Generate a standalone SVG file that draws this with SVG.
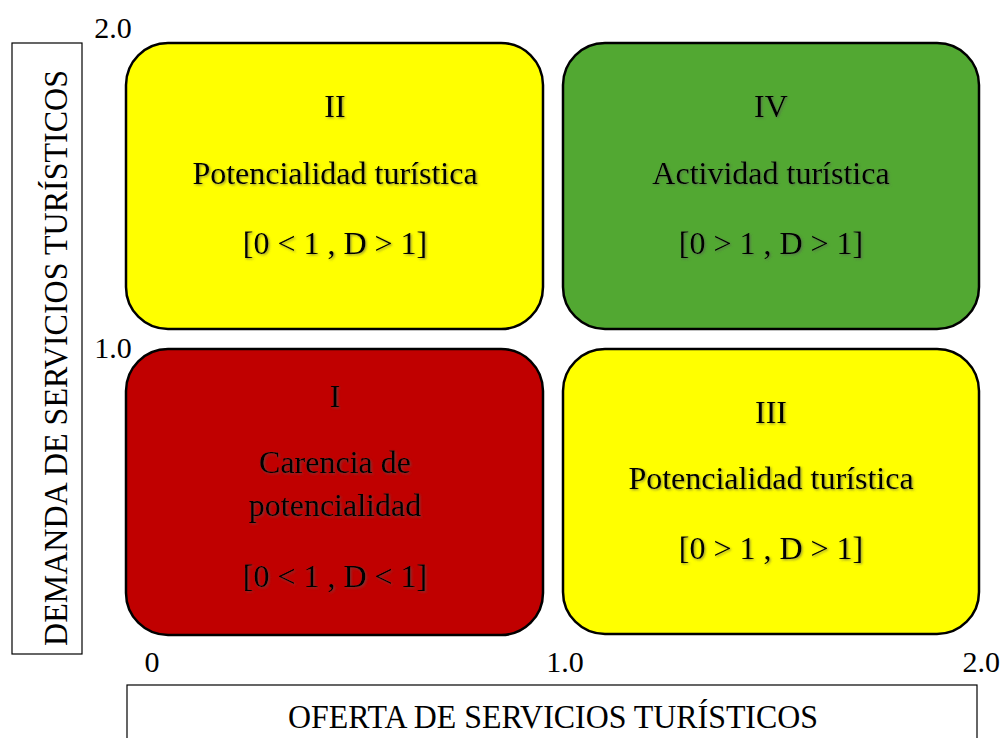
<svg xmlns="http://www.w3.org/2000/svg" width="1001" height="738" viewBox="0 0 1001 738">
<style>
.t{font-family:"Liberation Serif","Times New Roman",serif;fill:#000;text-anchor:middle}
.q{font-size:32px;filter:url(#sh)}
.ax{font-size:30px}
.box{stroke:#000;stroke-width:2.5}
.lbl{fill:#fff;stroke:#000;stroke-width:1.2}
</style>
<defs>
<filter id="sh" x="-5%" y="-20%" width="110%" height="140%">
<feDropShadow dx="1.2" dy="1.2" stdDeviation="0.8" flood-color="#555" flood-opacity="0.6"/>
</filter>
</defs>
<rect width="1001" height="738" fill="#fff"/>
<g id="axis-y">
<rect class="lbl" x="12" y="43" width="70" height="611"/>
<text class="t" transform="translate(67,358) rotate(-90)" font-size="33" textLength="576" lengthAdjust="spacingAndGlyphs">DEMANDA DE SERVICIOS TURÍSTICOS</text>
<text class="t ax" x="113" y="38">2.0</text>
<text class="t ax" x="113" y="358">1.0</text>
</g>
<g id="axis-x">
<rect class="lbl" x="127" y="685" width="850" height="60"/>
<text class="t" x="553" y="728" font-size="33" textLength="530" lengthAdjust="spacingAndGlyphs">OFERTA DE SERVICIOS TURÍSTICOS</text>
<text class="t ax" x="152" y="672">0</text>
<text class="t ax" x="565" y="672">1.0</text>
<text class="t ax" x="1000" y="672" style="text-anchor:end">2.0</text>
</g>
<g id="q2">
<rect class="box" x="126" y="43" width="417" height="286" rx="42" fill="#ffff00"/>
<text class="t q" x="335" y="117">II</text>
<text class="t q" x="335" y="184">Potencialidad turística</text>
<text class="t q" x="335" y="254">[0 &lt; 1 , D &gt; 1]</text>
</g>
<g id="q4">
<rect class="box" x="563" y="43" width="416" height="286" rx="42" fill="#52a832"/>
<text class="t q" x="771" y="117">IV</text>
<text class="t q" x="771" y="184">Actividad turística</text>
<text class="t q" x="771" y="254">[0 &gt; 1 , D &gt; 1]</text>
</g>
<g id="q1">
<rect class="box" x="126" y="349" width="417" height="286" rx="42" fill="#c00000"/>
<text class="t q" x="335" y="407">I</text>
<text class="t q" x="335" y="473">Carencia de</text>
<text class="t q" x="335" y="516">potencialidad</text>
<text class="t q" x="335" y="587">[0 &lt; 1 , D &lt; 1]</text>
</g>
<g id="q3">
<rect class="box" x="563" y="349" width="416" height="285" rx="42" fill="#ffff00"/>
<text class="t q" x="771" y="423">III</text>
<text class="t q" x="771" y="489">Potencialidad turística</text>
<text class="t q" x="771" y="559">[0 &gt; 1 , D &gt; 1]</text>
</g>
<g id="connectors"/>
</svg>
